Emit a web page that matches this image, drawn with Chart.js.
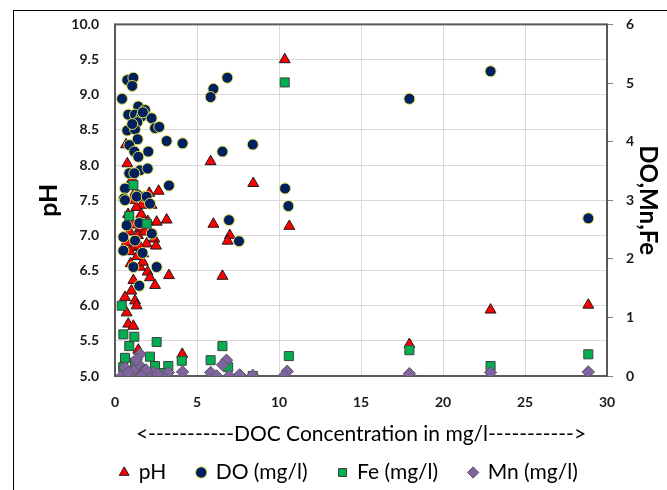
<!DOCTYPE html>
<html>
<head>
<meta charset="utf-8">
<script src="https://cdn.jsdelivr.net/npm/chart.js@4.4.1/dist/chart.umd.min.js"></script>
<style>
  body { margin: 0; background: #fff; }
  #wrap { position: relative; width: 667px; height: 490px; overflow: hidden; }
  #chart { position: absolute; left: 0; top: 0; }
  #frame { position: absolute; left: 13px; top: 10px; width: 700px; height: 500px;
           border-left: 1px solid #000; border-top: 1px solid #000; pointer-events: none; }
</style>
</head>
<body>
<div id="wrap">
  <canvas id="chart" width="667" height="490"></canvas>
  <div id="frame"></div>
</div>
<script>
const phDoc = [10.35, 5.83, 8.43, 6.0, 10.63, 7.0, 6.87, 6.55, 4.1, 17.95, 22.9, 28.86,
    0.67, 0.75, 2.66, 2.09, 1.62, 2.23, 2.54, 3.15, 1.52, 1.12, 1.93, 0.9, 1.73, 1.52, 1.99, 2.13,
    3.29, 2.44, 1.12, 1.0, 0.61, 1.22, 1.32, 0.71, 0.81, 1.12, 1.42,
    1.0, 1.3, 0.8, 1.6, 1.1, 1.4, 0.9, 1.8, 1.2, 2.0, 0.7, 1.5, 1.35, 0.95, 1.7, 2.4, 1.05, 1.25, 2.5];
const phValues = [9.5, 8.05, 7.74, 7.16, 7.13, 7.0, 6.92, 6.42, 5.31, 5.45, 5.94, 6.01,
    8.29, 8.02, 7.63, 7.6, 7.43, 7.43, 7.19, 7.22, 7.1, 6.83, 6.88, 6.77, 6.74, 6.55, 6.48, 6.4,
    6.43, 6.29, 6.36, 6.21, 6.12, 6.07, 6.0, 5.9, 5.74, 5.71, 5.37,
    7.5, 7.4, 7.3, 7.3, 7.15, 7.0, 7.05, 7.05, 6.95, 7.2, 6.9, 6.85, 6.7, 6.6, 6.62, 6.95, 7.8, 7.62, 6.85];

const doDoc = [6.85, 6.0, 5.83, 4.12, 6.55, 8.4, 10.37, 10.57, 6.95, 7.56, 17.95, 22.9, 28.86,
    0.75, 1.12, 1.05, 0.43, 1.42, 1.83, 0.81, 1.22, 1.62, 2.23, 1.36, 2.44, 2.7, 0.75, 1.22, 3.15,
    1.38, 0.87, 1.18, 2.03, 1.42, 1.52, 1.99, 0.87, 1.18, 3.29, 0.61, 0.55, 1.38, 1.77, 0.61, 1.32,
    1.93, 2.13, 0.71, 1.48, 2.24, 0.51, 1.22, 0.51, 1.68, 1.12, 2.54, 1.48, 1.05, 1.7];
const doValues = [5.09, 4.9, 4.76, 3.97, 3.83, 3.95, 3.2, 2.9, 2.66, 2.3, 4.73, 5.2, 2.69,
    5.05, 5.09, 4.95, 4.73, 4.6, 4.54, 4.46, 4.46, 4.43, 4.4, 4.33, 4.23, 4.25, 4.19, 4.21, 4.01,
    4.04, 3.94, 3.83, 3.83, 3.74, 3.51, 3.54, 3.46, 3.46, 3.25, 3.2, 3.03, 3.09, 3.06, 3.0, 3.06,
    3.06, 2.94, 2.57, 2.61, 2.43, 2.37, 2.31, 2.14, 2.1, 1.86, 1.86, 1.54, 4.3, 4.5];

const feDoc = [10.35, 6.55, 5.83, 10.6, 4.07, 6.9, 6.0, 8.4, 17.95, 22.9, 28.86,
    1.12, 0.87, 1.93, 0.41, 0.51, 1.18, 0.87, 2.54, 0.61, 1.22, 2.13, 2.44, 3.25, 0.5, 1.6, 2.9, 0.9];
const feValues = [5.01, 0.51, 0.27, 0.34, 0.26, 0.15, 0.0, 0.0, 0.44, 0.17, 0.37,
    3.26, 2.73, 2.6, 1.2, 0.71, 0.67, 0.51, 0.58, 0.31, 0.23, 0.33, 0.17, 0.17, 0.15, 0.12, 0.05, 0.05];

const mnDoc = [6.8, 6.56, 5.83, 4.12, 6.97, 7.6, 8.4, 10.5, 10.3, 17.95, 22.9, 28.86,
    1.52, 1.42, 0.61, 1.12, 1.73, 2.34, 3.25, 0.41, 0.91, 2.13, 2.84, 6.2, 1.3, 0.8, 1.9, 2.6, 1.6];
const mnValues = [0.27, 0.19, 0.06, 0.07, 0.0, 0.02, 0.01, 0.08, 0.0, 0.04, 0.06, 0.07,
    0.37, 0.2, 0.14, 0.09, 0.06, 0.06, 0.06, 0.0, 0.0, 0.0, 0.0, 0.0, 0.28, 0.05, 0.1, 0.03, 0.0];

const xTitle = '<-----------DOC Concentration in mg/l----------->';

function pairs(xs, ys) {
    return xs.map((x, i) => ({ x: x, y: ys[i] }));
}

// box round the plot area, drawn under the markers
const plotBox = {
    id: 'plotBox',
    beforeDatasetsDraw(chart) {
        const a = chart.chartArea;
        const ctx = chart.ctx;
        ctx.save();
        ctx.strokeStyle = '#595959';
        ctx.lineWidth = 2;
        ctx.strokeRect(a.left, a.top, a.right - a.left, a.bottom - a.top);
        ctx.restore();
    }
};

const tickFont = { family: 'Lato', size: 14, weight: 'bold' };

new Chart(document.getElementById('chart').getContext('2d'), {
    type: 'scatter',
    data: {
        datasets: [
            {
                label: 'pH', data: pairs(phDoc, phValues), yAxisID: 'y', order: 4,
                pointStyle: 'triangle', radius: 6.3, backgroundColor: '#FF0000',
                borderColor: '#1a1a1a', borderWidth: 1
            },
            {
                label: 'DO (mg/l)', data: pairs(doDoc, doValues), yAxisID: 'y1', order: 3,
                pointStyle: 'circle', radius: 5.5, backgroundColor: '#002060',
                borderColor: '#E6E24A', borderWidth: 1
            },
            {
                label: 'Fe (mg/l)', data: pairs(feDoc, feValues), yAxisID: 'y1', order: 2,
                pointStyle: 'rect', radius: 6.4, backgroundColor: '#00B050',
                borderColor: '#404040', borderWidth: 1
            },
            {
                label: 'Mn (mg/l)', data: pairs(mnDoc, mnValues), yAxisID: 'y1', order: 1,
                pointStyle: 'rectRot', radius: 6.2, backgroundColor: '#8064A2',
                borderColor: '#595959', borderWidth: 1
            }
        ]
    },
    options: {
        responsive: false,
        animation: false,
        layout: { padding: { left: 36, right: 5, top: 22, bottom: -3 } },
        plugins: {
            tooltip: { enabled: false },
            legend: {
                position: 'bottom',
                labels: {
                    usePointStyle: true,
                    boxWidth: 8,
                    boxHeight: 8,
                    padding: 31,
                    color: '#000',
                    font: { family: 'Lato', size: 21 },
                    sort: (a, b) => a.datasetIndex - b.datasetIndex
                }
            }
        },
        scales: {
            x: {
                type: 'linear',
                min: 0, max: 30,
                afterFit: (s) => { s.height = 55; },
                ticks: { stepSize: 5, color: '#1a1a1a', font: tickFont, padding: 18 },
                grid: { color: '#D9D9D9', drawTicks: false },
                border: { display: false },
                title: { display: true, text: xTitle, color: '#000',
                         font: { family: 'Lato', size: 21 }, padding: { top: -16, bottom: -16 } }
            },
            y: {
                position: 'left',
                min: 5, max: 10,
                afterFit: (s) => { s.width = 79; },
                ticks: { stepSize: 0.5, color: '#1a1a1a', font: tickFont, padding: 16,
                         callback: (v) => v.toFixed(1) },
                grid: { color: '#D9D9D9', drawTicks: false },
                border: { display: false },
                title: { display: true, text: 'pH', color: '#000',
                         font: { family: 'Lato', size: 25, weight: 'bold' }, padding: { top: -2, bottom: 0 } }
            },
            y1: {
                position: 'right',
                min: 0, max: 6,
                afterFit: (s) => { s.width = 55; },
                ticks: { stepSize: 1, color: '#1a1a1a', font: tickFont, padding: 13 },
                grid: { drawOnChartArea: false, color: '#808080', tickLength: 6 },
                border: { display: false },
                title: { display: true, text: 'DO,Mn,Fe', color: '#000',
                         font: { family: 'Lato', size: 24, weight: 'bold' }, padding: { top: 0, bottom: 3 } }
            }
        }
    },
    plugins: [plotBox]
});
</script>
</body>
</html>
